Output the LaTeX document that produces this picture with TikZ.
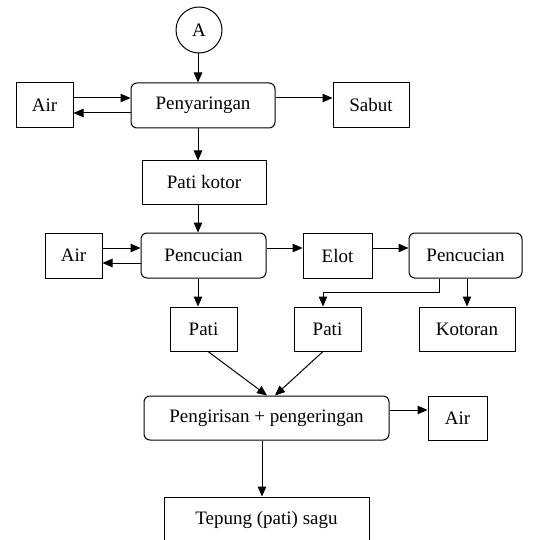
\documentclass[tikz,border=0pt]{standalone}
\usepackage{fontspec}
\setmainfont{Liberation Serif}
\usetikzlibrary{arrows.meta,calc}
\begin{document}
\begin{tikzpicture}[x=1pt,y=-1pt,
  every node/.style={font=\fontsize{19}{22}\selectfont, inner sep=0pt, line width=1pt},
  sq/.style={draw, rectangle, minimum height=45pt},
  rd/.style={draw, rectangle, rounded corners=6pt, minimum height=45pt},
  arr/.style={line width=1pt, -{Triangle[length=10pt,width=8.5pt]}},
  ln/.style={line width=1pt}]
\useasboundingbox (0,0) rectangle (534,540);
\clip (0,0) rectangle (534,540);
\node[draw,circle,minimum size=46pt] (A) at (199,30) {A};
\node[sq,minimum width=57pt] (air1) at (44.5,105.5) {Air};
\node[rd,minimum width=144pt] (pen) at (203,105.5) {Penyaringan};
\node[sq,minimum width=76pt] (sabut) at (371,105.5) {Sabut};
\node[sq,minimum width=124pt,minimum height=43pt] (kotor) at (204,182.5) {Pati kotor};
\node[sq,minimum width=57pt] (air2) at (73.5,255.5) {Air};
\node[rd,minimum width=125pt] (pc1) at (203.5,255.5) {Pencucian};
\node[sq,minimum width=69pt] (elot) at (337.5,255.5) {Elot};
\node[rd,minimum width=113pt] (pc2) at (465.5,255.5) {Pencucian};
\node[sq,minimum width=67pt,minimum height=44pt] (pati1) at (203.5,329) {Pati};
\node[sq,minimum width=67pt,minimum height=44pt] (pati2) at (327.5,329) {Pati};
\node[sq,minimum width=96pt,minimum height=44pt] (kot) at (467,329) {Kotoran};
\node[rd,minimum width=245pt,minimum height=44pt] (peng) at (266.5,418) {Pengirisan + pengeringan};
\node[sq,minimum width=59pt,minimum height=44pt] (air3) at (457.5,418) {Air};
\node[sq,minimum width=205pt,minimum height=45pt] (tep) at (266.5,519.5) {Tepung (pati) sagu};

\coordinate (m) at (271,394);
\coordinate (e1) at (439,292);
\coordinate (e2) at (323,292);

\draw[arr] (A.south -| 198,0) -- (pen.north -| 198,0);
\draw[arr] ([yshift=7.5pt]air1.east) -- ([yshift=7.5pt]air1.east -| pen.west);
\draw[arr] ([yshift=-7.5pt]pen.west) -- ([yshift=-7.5pt]pen.west -| air1.east);
\draw[arr] ([yshift=7.5pt]pen.east) -- ([yshift=7.5pt]pen.east -| sabut.west);
\draw[arr] (pen.south -| 198,0) -- (kotor.north -| 198,0);
\draw[arr] (kotor.south -| 198,0) -- (pc1.north -| 198,0);
\draw[arr] ([yshift=7.5pt]air2.east) -- ([yshift=7.5pt]air2.east -| pc1.west);
\draw[arr] ([yshift=-7.5pt]pc1.west) -- ([yshift=-7.5pt]pc1.west -| air2.east);
\draw[arr] ([yshift=7.5pt]pc1.east) -- ([yshift=7.5pt]pc1.east -| elot.west);
\draw[arr] ([yshift=7.5pt]elot.east) -- ([yshift=7.5pt]elot.east -| pc2.west);
\draw[arr] (pc1.south -| 198,0) -- (pati1.north -| 198,0);
\draw[arr] (pc2.south -| kot.north) -- (kot.north);
\draw[arr] (pc2.south -| e1) -- (e1) -- (e2) -- (e2 |- pati2.north);
\draw[arr] (pati1.south -| 208,0) -- ([xshift=-4pt]peng.north -| m);
\draw[arr] (pati2.south -| 323,0) -- ([xshift=4pt]peng.north -| m);
\draw[arr] ([yshift=8pt]peng.east) -- ([yshift=8pt]peng.east -| air3.west);
\draw[arr] (peng.south -| 262,0) -- (tep.north -| 262,0);
\end{tikzpicture}
\end{document}
